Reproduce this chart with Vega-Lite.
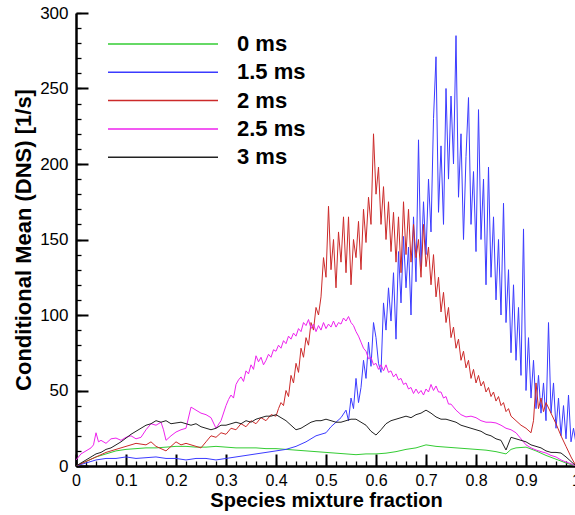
{
  "$schema": "https://vega.github.io/schema/vega-lite/v6.json",
  "width": 500,
  "height": 453,
  "autosize": "none",
  "padding": {"left": 76, "top": 13, "right": 0, "bottom": 49},
  "config": {
    "font": "Liberation Sans",
    "view": {"stroke": null},
    "axis": {"grid": false, "domainColor": "#000", "tickColor": "#000", "labelColor": "#000", "titleColor": "#000", "labelOverlap": false, "labelFlush": false}
  },
  "data": {"values": [
    {"s":"0 ms","x":0,"y":0},{"s":"0 ms","x":0.02,"y":3},{"s":"0 ms","x":0.04,"y":6},{"s":"0 ms","x":0.06,"y":8},{"s":"0 ms","x":0.08,"y":10},{"s":"0 ms","x":0.1,"y":11},{"s":"0 ms","x":0.12,"y":11.5},{"s":"0 ms","x":0.14,"y":12},{"s":"0 ms","x":0.16,"y":12},{"s":"0 ms","x":0.18,"y":12.5},{"s":"0 ms","x":0.2,"y":13},{"s":"0 ms","x":0.22,"y":13},{"s":"0 ms","x":0.24,"y":12.5},{"s":"0 ms","x":0.26,"y":12.5},{"s":"0 ms","x":0.28,"y":13},{"s":"0 ms","x":0.3,"y":12.5},{"s":"0 ms","x":0.32,"y":12},{"s":"0 ms","x":0.34,"y":12},{"s":"0 ms","x":0.36,"y":12},{"s":"0 ms","x":0.38,"y":11.5},{"s":"0 ms","x":0.4,"y":11.5},{"s":"0 ms","x":0.42,"y":11},{"s":"0 ms","x":0.44,"y":10.5},{"s":"0 ms","x":0.46,"y":10},{"s":"0 ms","x":0.48,"y":9.5},{"s":"0 ms","x":0.5,"y":9},{"s":"0 ms","x":0.52,"y":8.5},{"s":"0 ms","x":0.54,"y":8},{"s":"0 ms","x":0.56,"y":7.5},{"s":"0 ms","x":0.58,"y":8},{"s":"0 ms","x":0.6,"y":8},{"s":"0 ms","x":0.62,"y":8.5},{"s":"0 ms","x":0.64,"y":9.5},{"s":"0 ms","x":0.66,"y":11},{"s":"0 ms","x":0.68,"y":12},{"s":"0 ms","x":0.7,"y":14},{"s":"0 ms","x":0.72,"y":13},{"s":"0 ms","x":0.74,"y":12.5},{"s":"0 ms","x":0.76,"y":12},{"s":"0 ms","x":0.78,"y":11.5},{"s":"0 ms","x":0.8,"y":11},{"s":"0 ms","x":0.82,"y":10.5},{"s":"0 ms","x":0.84,"y":9.5},{"s":"0 ms","x":0.86,"y":8},{"s":"0 ms","x":0.87,"y":11},{"s":"0 ms","x":0.88,"y":12},{"s":"0 ms","x":0.9,"y":12.5},{"s":"0 ms","x":0.92,"y":10},{"s":"0 ms","x":0.94,"y":7},{"s":"0 ms","x":0.96,"y":4.5},{"s":"0 ms","x":0.98,"y":2},{"s":"0 ms","x":1,"y":0},

    {"s":"1.5 ms","x":0,"y":0},{"s":"1.5 ms","x":0.02,"y":2},{"s":"1.5 ms","x":0.04,"y":4},{"s":"1.5 ms","x":0.06,"y":5},{"s":"1.5 ms","x":0.08,"y":5},{"s":"1.5 ms","x":0.1,"y":6},{"s":"1.5 ms","x":0.12,"y":5},{"s":"1.5 ms","x":0.14,"y":5.5},{"s":"1.5 ms","x":0.16,"y":6},{"s":"1.5 ms","x":0.18,"y":5},{"s":"1.5 ms","x":0.2,"y":5},{"s":"1.5 ms","x":0.22,"y":4},{"s":"1.5 ms","x":0.24,"y":5},{"s":"1.5 ms","x":0.26,"y":5},{"s":"1.5 ms","x":0.28,"y":4},{"s":"1.5 ms","x":0.3,"y":5},{"s":"1.5 ms","x":0.32,"y":6},{"s":"1.5 ms","x":0.34,"y":7},{"s":"1.5 ms","x":0.36,"y":8},{"s":"1.5 ms","x":0.38,"y":9},{"s":"1.5 ms","x":0.4,"y":10},{"s":"1.5 ms","x":0.42,"y":11},{"s":"1.5 ms","x":0.44,"y":13},{"s":"1.5 ms","x":0.46,"y":16},{"s":"1.5 ms","x":0.48,"y":20},{"s":"1.5 ms","x":0.5,"y":22},{"s":"1.5 ms","x":0.51,"y":26},{"s":"1.5 ms","x":0.52,"y":29},{"s":"1.5 ms","x":0.53,"y":32},{"s":"1.5 ms","x":0.54,"y":37},{"s":"1.5 ms","x":0.545,"y":30},
    {"s":"1.5 ms","x":0.55,"y":45},{"s":"1.5 ms","x":0.555,"y":38},{"s":"1.5 ms","x":0.56,"y":58},{"s":"1.5 ms","x":0.565,"y":42},{"s":"1.5 ms","x":0.57,"y":52},{"s":"1.5 ms","x":0.575,"y":70},{"s":"1.5 ms","x":0.58,"y":58},{"s":"1.5 ms","x":0.585,"y":82},{"s":"1.5 ms","x":0.59,"y":66},{"s":"1.5 ms","x":0.595,"y":95},{"s":"1.5 ms","x":0.6,"y":85},{"s":"1.5 ms","x":0.605,"y":68},{"s":"1.5 ms","x":0.61,"y":62},{"s":"1.5 ms","x":0.615,"y":108},{"s":"1.5 ms","x":0.62,"y":90},{"s":"1.5 ms","x":0.625,"y":118},{"s":"1.5 ms","x":0.63,"y":96},{"s":"1.5 ms","x":0.635,"y":128},{"s":"1.5 ms","x":0.64,"y":84},{"s":"1.5 ms","x":0.645,"y":142},{"s":"1.5 ms","x":0.65,"y":108},{"s":"1.5 ms","x":0.655,"y":152},{"s":"1.5 ms","x":0.66,"y":118},{"s":"1.5 ms","x":0.665,"y":145},{"s":"1.5 ms","x":0.67,"y":100},{"s":"1.5 ms","x":0.675,"y":165},{"s":"1.5 ms","x":0.68,"y":122},{"s":"1.5 ms","x":0.685,"y":216},{"s":"1.5 ms","x":0.69,"y":132},{"s":"1.5 ms","x":0.695,"y":175},{"s":"1.5 ms","x":0.7,"y":140},{"s":"1.5 ms","x":0.705,"y":190},{"s":"1.5 ms","x":0.71,"y":155},{"s":"1.5 ms","x":0.715,"y":230},{"s":"1.5 ms","x":0.72,"y":271},{"s":"1.5 ms","x":0.725,"y":168},{"s":"1.5 ms","x":0.73,"y":212},{"s":"1.5 ms","x":0.735,"y":160},{"s":"1.5 ms","x":0.74,"y":250},{"s":"1.5 ms","x":0.745,"y":190},{"s":"1.5 ms","x":0.75,"y":245},{"s":"1.5 ms","x":0.755,"y":200},{"s":"1.5 ms","x":0.76,"y":285},{"s":"1.5 ms","x":0.765,"y":178},{"s":"1.5 ms","x":0.77,"y":220},{"s":"1.5 ms","x":0.775,"y":150},{"s":"1.5 ms","x":0.78,"y":205},{"s":"1.5 ms","x":0.785,"y":244},{"s":"1.5 ms","x":0.79,"y":160},{"s":"1.5 ms","x":0.795,"y":195},{"s":"1.5 ms","x":0.8,"y":142},{"s":"1.5 ms","x":0.805,"y":236},{"s":"1.5 ms","x":0.81,"y":150},{"s":"1.5 ms","x":0.815,"y":190},{"s":"1.5 ms","x":0.82,"y":120},{"s":"1.5 ms","x":0.825,"y":198},{"s":"1.5 ms","x":0.83,"y":125},{"s":"1.5 ms","x":0.835,"y":165},{"s":"1.5 ms","x":0.84,"y":110},{"s":"1.5 ms","x":0.845,"y":150},{"s":"1.5 ms","x":0.85,"y":100},{"s":"1.5 ms","x":0.855,"y":174},{"s":"1.5 ms","x":0.86,"y":95},{"s":"1.5 ms","x":0.865,"y":130},{"s":"1.5 ms","x":0.87,"y":75},{"s":"1.5 ms","x":0.875,"y":120},{"s":"1.5 ms","x":0.88,"y":70},{"s":"1.5 ms","x":0.885,"y":105},{"s":"1.5 ms","x":0.89,"y":60},{"s":"1.5 ms","x":0.895,"y":157},{"s":"1.5 ms","x":0.9,"y":50},{"s":"1.5 ms","x":0.905,"y":85},{"s":"1.5 ms","x":0.91,"y":45},{"s":"1.5 ms","x":0.915,"y":70},{"s":"1.5 ms","x":0.92,"y":38},{"s":"1.5 ms","x":0.925,"y":60},{"s":"1.5 ms","x":0.93,"y":35},{"s":"1.5 ms","x":0.935,"y":55},{"s":"1.5 ms","x":0.94,"y":30},{"s":"1.5 ms","x":0.945,"y":95},{"s":"1.5 ms","x":0.95,"y":35},{"s":"1.5 ms","x":0.955,"y":55},{"s":"1.5 ms","x":0.96,"y":25},{"s":"1.5 ms","x":0.965,"y":45},{"s":"1.5 ms","x":0.97,"y":20},{"s":"1.5 ms","x":0.975,"y":40},{"s":"1.5 ms","x":0.98,"y":18},{"s":"1.5 ms","x":0.985,"y":47},{"s":"1.5 ms","x":0.99,"y":16},{"s":"1.5 ms","x":0.995,"y":25},{"s":"1.5 ms","x":1,"y":15},

    {"s":"2 ms","x":0,"y":0},{"s":"2 ms","x":0.02,"y":3},{"s":"2 ms","x":0.04,"y":6},{"s":"2 ms","x":0.06,"y":9},{"s":"2 ms","x":0.08,"y":11},{"s":"2 ms","x":0.1,"y":13},{"s":"2 ms","x":0.12,"y":15},{"s":"2 ms","x":0.14,"y":14},{"s":"2 ms","x":0.15,"y":16},{"s":"2 ms","x":0.16,"y":13},{"s":"2 ms","x":0.18,"y":10},{"s":"2 ms","x":0.19,"y":13},{"s":"2 ms","x":0.2,"y":16},{"s":"2 ms","x":0.21,"y":14},{"s":"2 ms","x":0.22,"y":15},{"s":"2 ms","x":0.24,"y":13},{"s":"2 ms","x":0.25,"y":12},{"s":"2 ms","x":0.26,"y":16},{"s":"2 ms","x":0.27,"y":20},{"s":"2 ms","x":0.28,"y":19},{"s":"2 ms","x":0.29,"y":22},{"s":"2 ms","x":0.3,"y":21},{"s":"2 ms","x":0.31,"y":25},{"s":"2 ms","x":0.32,"y":24},{"s":"2 ms","x":0.33,"y":28},{"s":"2 ms","x":0.34,"y":26},{"s":"2 ms","x":0.35,"y":30},{"s":"2 ms","x":0.36,"y":28},{"s":"2 ms","x":0.37,"y":32},{"s":"2 ms","x":0.38,"y":30},{"s":"2 ms","x":0.39,"y":34},{"s":"2 ms","x":0.4,"y":33},{"s":"2 ms","x":0.405,"y":38},{"s":"2 ms","x":0.41,"y":42},{"s":"2 ms","x":0.415,"y":40},{"s":"2 ms","x":0.42,"y":50},{"s":"2 ms","x":0.425,"y":46},{"s":"2 ms","x":0.43,"y":60},{"s":"2 ms","x":0.435,"y":55},{"s":"2 ms","x":0.44,"y":68},{"s":"2 ms","x":0.445,"y":62},{"s":"2 ms","x":0.45,"y":78},{"s":"2 ms","x":0.455,"y":72},{"s":"2 ms","x":0.46,"y":85},{"s":"2 ms","x":0.465,"y":80},{"s":"2 ms","x":0.47,"y":95},{"s":"2 ms","x":0.475,"y":90},{"s":"2 ms","x":0.48,"y":105},{"s":"2 ms","x":0.485,"y":100},{"s":"2 ms","x":0.49,"y":112},{"s":"2 ms","x":0.495,"y":138},{"s":"2 ms","x":0.5,"y":125},{"s":"2 ms","x":0.505,"y":172},{"s":"2 ms","x":0.51,"y":130},{"s":"2 ms","x":0.515,"y":150},{"s":"2 ms","x":0.52,"y":118},{"s":"2 ms","x":0.525,"y":155},{"s":"2 ms","x":0.53,"y":135},{"s":"2 ms","x":0.535,"y":165},{"s":"2 ms","x":0.54,"y":128},{"s":"2 ms","x":0.545,"y":165},{"s":"2 ms","x":0.55,"y":120},{"s":"2 ms","x":0.555,"y":150},{"s":"2 ms","x":0.56,"y":138},{"s":"2 ms","x":0.565,"y":162},{"s":"2 ms","x":0.57,"y":130},{"s":"2 ms","x":0.575,"y":170},{"s":"2 ms","x":0.58,"y":148},{"s":"2 ms","x":0.585,"y":178},{"s":"2 ms","x":0.59,"y":160},{"s":"2 ms","x":0.595,"y":220},{"s":"2 ms","x":0.6,"y":180},{"s":"2 ms","x":0.605,"y":198},{"s":"2 ms","x":0.61,"y":160},{"s":"2 ms","x":0.615,"y":185},{"s":"2 ms","x":0.62,"y":150},{"s":"2 ms","x":0.625,"y":175},{"s":"2 ms","x":0.63,"y":142},{"s":"2 ms","x":0.635,"y":168},{"s":"2 ms","x":0.64,"y":135},{"s":"2 ms","x":0.645,"y":165},{"s":"2 ms","x":0.65,"y":128},{"s":"2 ms","x":0.655,"y":175},{"s":"2 ms","x":0.66,"y":140},{"s":"2 ms","x":0.665,"y":170},{"s":"2 ms","x":0.67,"y":135},{"s":"2 ms","x":0.675,"y":160},{"s":"2 ms","x":0.68,"y":138},{"s":"2 ms","x":0.685,"y":150},{"s":"2 ms","x":0.69,"y":125},{"s":"2 ms","x":0.695,"y":160},{"s":"2 ms","x":0.7,"y":132},{"s":"2 ms","x":0.705,"y":145},{"s":"2 ms","x":0.71,"y":120},{"s":"2 ms","x":0.715,"y":140},{"s":"2 ms","x":0.72,"y":112},{"s":"2 ms","x":0.725,"y":125},{"s":"2 ms","x":0.73,"y":102},{"s":"2 ms","x":0.735,"y":115},{"s":"2 ms","x":0.74,"y":95},{"s":"2 ms","x":0.745,"y":105},{"s":"2 ms","x":0.75,"y":85},{"s":"2 ms","x":0.755,"y":92},{"s":"2 ms","x":0.76,"y":78},{"s":"2 ms","x":0.765,"y":84},{"s":"2 ms","x":0.77,"y":70},{"s":"2 ms","x":0.775,"y":76},{"s":"2 ms","x":0.78,"y":65},{"s":"2 ms","x":0.785,"y":70},{"s":"2 ms","x":0.79,"y":58},{"s":"2 ms","x":0.795,"y":64},{"s":"2 ms","x":0.8,"y":55},{"s":"2 ms","x":0.805,"y":60},{"s":"2 ms","x":0.81,"y":53},{"s":"2 ms","x":0.815,"y":56},{"s":"2 ms","x":0.82,"y":49},{"s":"2 ms","x":0.825,"y":52},{"s":"2 ms","x":0.83,"y":46},{"s":"2 ms","x":0.835,"y":49},{"s":"2 ms","x":0.84,"y":43},{"s":"2 ms","x":0.845,"y":46},{"s":"2 ms","x":0.85,"y":40},{"s":"2 ms","x":0.855,"y":42},{"s":"2 ms","x":0.86,"y":36},{"s":"2 ms","x":0.865,"y":38},{"s":"2 ms","x":0.87,"y":33},{"s":"2 ms","x":0.88,"y":30},{"s":"2 ms","x":0.89,"y":27},{"s":"2 ms","x":0.9,"y":25},{"s":"2 ms","x":0.91,"y":22},{"s":"2 ms","x":0.915,"y":30},{"s":"2 ms","x":0.92,"y":55},{"s":"2 ms","x":0.925,"y":38},{"s":"2 ms","x":0.93,"y":45},{"s":"2 ms","x":0.935,"y":36},{"s":"2 ms","x":0.94,"y":42},{"s":"2 ms","x":0.95,"y":35},{"s":"2 ms","x":0.96,"y":28},{"s":"2 ms","x":0.97,"y":20},{"s":"2 ms","x":0.98,"y":13},{"s":"2 ms","x":0.99,"y":6},{"s":"2 ms","x":1,"y":0},

    {"s":"2.5 ms","x":0,"y":4},{"s":"2.5 ms","x":0.01,"y":8},{"s":"2.5 ms","x":0.02,"y":10},{"s":"2.5 ms","x":0.03,"y":12},{"s":"2.5 ms","x":0.035,"y":14},{"s":"2.5 ms","x":0.04,"y":22},{"s":"2.5 ms","x":0.045,"y":16},{"s":"2.5 ms","x":0.05,"y":17},{"s":"2.5 ms","x":0.06,"y":15},{"s":"2.5 ms","x":0.07,"y":18},{"s":"2.5 ms","x":0.08,"y":18.5},{"s":"2.5 ms","x":0.09,"y":17},{"s":"2.5 ms","x":0.1,"y":19},{"s":"2.5 ms","x":0.11,"y":20},{"s":"2.5 ms","x":0.12,"y":18},{"s":"2.5 ms","x":0.13,"y":19},{"s":"2.5 ms","x":0.14,"y":24},{"s":"2.5 ms","x":0.15,"y":28},{"s":"2.5 ms","x":0.16,"y":27},{"s":"2.5 ms","x":0.17,"y":29},{"s":"2.5 ms","x":0.175,"y":24},{"s":"2.5 ms","x":0.18,"y":17},{"s":"2.5 ms","x":0.19,"y":20},{"s":"2.5 ms","x":0.2,"y":22.5},{"s":"2.5 ms","x":0.21,"y":24},{"s":"2.5 ms","x":0.22,"y":25},{"s":"2.5 ms","x":0.23,"y":39},{"s":"2.5 ms","x":0.24,"y":37},{"s":"2.5 ms","x":0.25,"y":35},{"s":"2.5 ms","x":0.26,"y":34},{"s":"2.5 ms","x":0.27,"y":32},{"s":"2.5 ms","x":0.28,"y":25},{"s":"2.5 ms","x":0.29,"y":30},
    {"s":"2.5 ms","x":0.3,"y":40},{"s":"2.5 ms","x":0.305,"y":44},{"s":"2.5 ms","x":0.31,"y":47},{"s":"2.5 ms","x":0.315,"y":45},{"s":"2.5 ms","x":0.32,"y":54},{"s":"2.5 ms","x":0.325,"y":57},{"s":"2.5 ms","x":0.33,"y":59},{"s":"2.5 ms","x":0.335,"y":56},{"s":"2.5 ms","x":0.34,"y":63},{"s":"2.5 ms","x":0.345,"y":61},{"s":"2.5 ms","x":0.35,"y":67},{"s":"2.5 ms","x":0.355,"y":64},{"s":"2.5 ms","x":0.36,"y":73},{"s":"2.5 ms","x":0.365,"y":69},{"s":"2.5 ms","x":0.37,"y":72},{"s":"2.5 ms","x":0.375,"y":67},{"s":"2.5 ms","x":0.38,"y":70},{"s":"2.5 ms","x":0.385,"y":74},{"s":"2.5 ms","x":0.39,"y":72},{"s":"2.5 ms","x":0.395,"y":77},{"s":"2.5 ms","x":0.4,"y":76},{"s":"2.5 ms","x":0.405,"y":80},{"s":"2.5 ms","x":0.41,"y":78},{"s":"2.5 ms","x":0.415,"y":83},{"s":"2.5 ms","x":0.42,"y":81},{"s":"2.5 ms","x":0.425,"y":86},{"s":"2.5 ms","x":0.43,"y":84},{"s":"2.5 ms","x":0.435,"y":88},{"s":"2.5 ms","x":0.44,"y":86},{"s":"2.5 ms","x":0.445,"y":91},{"s":"2.5 ms","x":0.45,"y":89},{"s":"2.5 ms","x":0.455,"y":95},{"s":"2.5 ms","x":0.46,"y":93},{"s":"2.5 ms","x":0.465,"y":97},{"s":"2.5 ms","x":0.47,"y":91},{"s":"2.5 ms","x":0.475,"y":94},{"s":"2.5 ms","x":0.48,"y":89},{"s":"2.5 ms","x":0.485,"y":93},{"s":"2.5 ms","x":0.49,"y":90},{"s":"2.5 ms","x":0.495,"y":95},{"s":"2.5 ms","x":0.5,"y":91},{"s":"2.5 ms","x":0.505,"y":94},{"s":"2.5 ms","x":0.51,"y":92},{"s":"2.5 ms","x":0.515,"y":96},{"s":"2.5 ms","x":0.52,"y":92},{"s":"2.5 ms","x":0.525,"y":95},{"s":"2.5 ms","x":0.53,"y":94},{"s":"2.5 ms","x":0.535,"y":98},{"s":"2.5 ms","x":0.54,"y":96},{"s":"2.5 ms","x":0.545,"y":99},{"s":"2.5 ms","x":0.55,"y":95},{"s":"2.5 ms","x":0.555,"y":93},{"s":"2.5 ms","x":0.56,"y":89},{"s":"2.5 ms","x":0.565,"y":86},{"s":"2.5 ms","x":0.57,"y":82},{"s":"2.5 ms","x":0.575,"y":78},{"s":"2.5 ms","x":0.58,"y":76},{"s":"2.5 ms","x":0.585,"y":71},{"s":"2.5 ms","x":0.59,"y":72},{"s":"2.5 ms","x":0.595,"y":67},{"s":"2.5 ms","x":0.6,"y":68},{"s":"2.5 ms","x":0.605,"y":64},{"s":"2.5 ms","x":0.61,"y":67},{"s":"2.5 ms","x":0.615,"y":63},{"s":"2.5 ms","x":0.62,"y":67},{"s":"2.5 ms","x":0.625,"y":62},{"s":"2.5 ms","x":0.63,"y":63},{"s":"2.5 ms","x":0.635,"y":59},{"s":"2.5 ms","x":0.64,"y":61},{"s":"2.5 ms","x":0.645,"y":57},{"s":"2.5 ms","x":0.65,"y":58},{"s":"2.5 ms","x":0.655,"y":54},{"s":"2.5 ms","x":0.66,"y":55},{"s":"2.5 ms","x":0.665,"y":51},{"s":"2.5 ms","x":0.67,"y":52},{"s":"2.5 ms","x":0.675,"y":48},{"s":"2.5 ms","x":0.68,"y":51},{"s":"2.5 ms","x":0.685,"y":48},{"s":"2.5 ms","x":0.69,"y":50},{"s":"2.5 ms","x":0.695,"y":47},{"s":"2.5 ms","x":0.7,"y":51},{"s":"2.5 ms","x":0.705,"y":49},{"s":"2.5 ms","x":0.71,"y":54},{"s":"2.5 ms","x":0.715,"y":50},{"s":"2.5 ms","x":0.72,"y":53},{"s":"2.5 ms","x":0.725,"y":49},{"s":"2.5 ms","x":0.73,"y":49},{"s":"2.5 ms","x":0.735,"y":45},{"s":"2.5 ms","x":0.74,"y":46},{"s":"2.5 ms","x":0.745,"y":41},{"s":"2.5 ms","x":0.75,"y":41},{"s":"2.5 ms","x":0.76,"y":37},{"s":"2.5 ms","x":0.77,"y":34},{"s":"2.5 ms","x":0.78,"y":32.5},{"s":"2.5 ms","x":0.79,"y":33},{"s":"2.5 ms","x":0.8,"y":32},{"s":"2.5 ms","x":0.81,"y":30},{"s":"2.5 ms","x":0.82,"y":29},{"s":"2.5 ms","x":0.83,"y":29},{"s":"2.5 ms","x":0.84,"y":28.5},{"s":"2.5 ms","x":0.85,"y":27},{"s":"2.5 ms","x":0.86,"y":25},{"s":"2.5 ms","x":0.87,"y":24},{"s":"2.5 ms","x":0.88,"y":22},{"s":"2.5 ms","x":0.89,"y":18},{"s":"2.5 ms","x":0.9,"y":14},{"s":"2.5 ms","x":0.91,"y":12},{"s":"2.5 ms","x":0.92,"y":10.6},{"s":"2.5 ms","x":0.93,"y":9.5},{"s":"2.5 ms","x":0.94,"y":8.6},{"s":"2.5 ms","x":0.95,"y":7},{"s":"2.5 ms","x":0.96,"y":6},{"s":"2.5 ms","x":0.97,"y":4},{"s":"2.5 ms","x":0.98,"y":2.6},{"s":"2.5 ms","x":0.99,"y":1.5},{"s":"2.5 ms","x":1,"y":0},

    {"s":"3 ms","x":0,"y":0},{"s":"3 ms","x":0.01,"y":2},{"s":"3 ms","x":0.02,"y":4},{"s":"3 ms","x":0.03,"y":6},{"s":"3 ms","x":0.04,"y":8},{"s":"3 ms","x":0.05,"y":9},{"s":"3 ms","x":0.06,"y":11},{"s":"3 ms","x":0.07,"y":12},{"s":"3 ms","x":0.08,"y":14},{"s":"3 ms","x":0.09,"y":16},{"s":"3 ms","x":0.1,"y":18.5},{"s":"3 ms","x":0.11,"y":21},{"s":"3 ms","x":0.12,"y":23},{"s":"3 ms","x":0.13,"y":25},{"s":"3 ms","x":0.14,"y":27},{"s":"3 ms","x":0.15,"y":28},{"s":"3 ms","x":0.16,"y":30},{"s":"3 ms","x":0.17,"y":29},{"s":"3 ms","x":0.18,"y":30},{"s":"3 ms","x":0.19,"y":28},{"s":"3 ms","x":0.2,"y":28.5},{"s":"3 ms","x":0.21,"y":29},{"s":"3 ms","x":0.22,"y":28},{"s":"3 ms","x":0.23,"y":27},{"s":"3 ms","x":0.24,"y":28},{"s":"3 ms","x":0.25,"y":26},{"s":"3 ms","x":0.26,"y":25},{"s":"3 ms","x":0.27,"y":24},{"s":"3 ms","x":0.28,"y":25},{"s":"3 ms","x":0.29,"y":27},{"s":"3 ms","x":0.3,"y":27},{"s":"3 ms","x":0.31,"y":28},{"s":"3 ms","x":0.32,"y":29},{"s":"3 ms","x":0.33,"y":28},{"s":"3 ms","x":0.34,"y":30},{"s":"3 ms","x":0.35,"y":29},{"s":"3 ms","x":0.36,"y":31},{"s":"3 ms","x":0.37,"y":32},{"s":"3 ms","x":0.38,"y":33},{"s":"3 ms","x":0.39,"y":33},{"s":"3 ms","x":0.4,"y":34},{"s":"3 ms","x":0.41,"y":32},{"s":"3 ms","x":0.42,"y":30},{"s":"3 ms","x":0.43,"y":27},{"s":"3 ms","x":0.44,"y":24},{"s":"3 ms","x":0.45,"y":25},{"s":"3 ms","x":0.46,"y":27},{"s":"3 ms","x":0.47,"y":29},{"s":"3 ms","x":0.48,"y":30},{"s":"3 ms","x":0.49,"y":30},{"s":"3 ms","x":0.5,"y":31},{"s":"3 ms","x":0.51,"y":30},{"s":"3 ms","x":0.52,"y":29},{"s":"3 ms","x":0.53,"y":29},{"s":"3 ms","x":0.54,"y":30},{"s":"3 ms","x":0.55,"y":31},{"s":"3 ms","x":0.56,"y":31},{"s":"3 ms","x":0.57,"y":29},{"s":"3 ms","x":0.58,"y":27},{"s":"3 ms","x":0.59,"y":23},{"s":"3 ms","x":0.6,"y":20.5},{"s":"3 ms","x":0.61,"y":24},{"s":"3 ms","x":0.62,"y":28},{"s":"3 ms","x":0.63,"y":30},{"s":"3 ms","x":0.64,"y":31},{"s":"3 ms","x":0.65,"y":32},{"s":"3 ms","x":0.66,"y":33},{"s":"3 ms","x":0.67,"y":32},{"s":"3 ms","x":0.68,"y":34},{"s":"3 ms","x":0.69,"y":35},{"s":"3 ms","x":0.7,"y":37},{"s":"3 ms","x":0.71,"y":35},{"s":"3 ms","x":0.72,"y":32.5},{"s":"3 ms","x":0.73,"y":31},{"s":"3 ms","x":0.74,"y":31},{"s":"3 ms","x":0.75,"y":30},{"s":"3 ms","x":0.76,"y":29},{"s":"3 ms","x":0.77,"y":27},{"s":"3 ms","x":0.78,"y":26},{"s":"3 ms","x":0.79,"y":25},{"s":"3 ms","x":0.8,"y":24},{"s":"3 ms","x":0.81,"y":23},{"s":"3 ms","x":0.82,"y":21},{"s":"3 ms","x":0.83,"y":20},{"s":"3 ms","x":0.84,"y":18},{"s":"3 ms","x":0.85,"y":17},{"s":"3 ms","x":0.86,"y":10.6},{"s":"3 ms","x":0.87,"y":19},{"s":"3 ms","x":0.88,"y":18},{"s":"3 ms","x":0.89,"y":17},{"s":"3 ms","x":0.9,"y":16},{"s":"3 ms","x":0.91,"y":14},{"s":"3 ms","x":0.92,"y":13},{"s":"3 ms","x":0.93,"y":12},{"s":"3 ms","x":0.94,"y":10},{"s":"3 ms","x":0.95,"y":9},{"s":"3 ms","x":0.96,"y":9},{"s":"3 ms","x":0.97,"y":8.6},{"s":"3 ms","x":0.98,"y":6},{"s":"3 ms","x":0.99,"y":3},{"s":"3 ms","x":1,"y":0}
  ]},
  "resolve": {"axis": {"x": "independent", "y": "independent"}},
  "layer": [
    {
      "mark": {"type": "line", "strokeWidth": 1, "clip": true},
      "encoding": {
        "x": {"field": "x", "type": "quantitative", "scale": {"domain": [0, 1], "nice": false},
          "axis": {"orient": "bottom", "title": "Species mixture fraction", "titleFontSize": 20, "titleFontWeight": "bold", "titlePadding": 2,
            "values": [0,0.02,0.04,0.06,0.08,0.1,0.12,0.14,0.16,0.18,0.2,0.22,0.24,0.26,0.28,0.3,0.32,0.34,0.36,0.38,0.4,0.42,0.44,0.46,0.48,0.5,0.52,0.54,0.56,0.58,0.6,0.62,0.64,0.66,0.68,0.7,0.72,0.74,0.76,0.78,0.8,0.82,0.84,0.86,0.88,0.9,0.92,0.94,0.96,0.98,1],
            "labelExpr": "round(datum.value*50) % 5 == 0 ? format(datum.value, '~g') : ''",
            "labelFontSize": 16, "labelPadding": 11, "tickSize": -5, "tickWidth": 1.3, "domainWidth": 2.5}},
        "y": {"field": "y", "type": "quantitative", "scale": {"domain": [0, 300], "nice": false},
          "axis": {"orient": "left", "title": "Conditional Mean (DNS) [1/s]", "titleFontSize": 22, "titleFontWeight": "bold", "titlePadding": 4,
            "values": [0,10,20,30,40,50,60,70,80,90,100,110,120,130,140,150,160,170,180,190,200,210,220,230,240,250,260,270,280,290,300],
            "labelExpr": "datum.value % 50 == 0 ? datum.label : ''",
            "labelFontSize": 17, "labelPadding": 13, "tickSize": -5, "tickWidth": 1.3, "domainWidth": 2.5}},
        "color": {"field": "s", "type": "nominal",
          "scale": {"domain": ["0 ms", "1.5 ms", "2 ms", "2.5 ms", "3 ms"], "range": ["#33cc33", "#3b3bff", "#cc2a2a", "#ee22ee", "#222222"]},
          "legend": {"orient": "none", "legendX": 31, "legendY": 20, "title": null, "padding": 0,
            "symbolType": "stroke", "symbolSize": 12100, "symbolStrokeWidth": 1.5, "clipHeight": 22, "rowPadding": 6.3,
            "labelFontSize": 22, "labelFontWeight": "bold", "labelColor": "#000", "labelOffset": 18}}
      }
    },
    {
      "mark": {"type": "line", "strokeOpacity": 0},
      "encoding": {
        "x": {"field": "x", "type": "quantitative",
          "axis": {"orient": "bottom", "title": null, "values": [0,0.1,0.2,0.3,0.4,0.5,0.6,0.7,0.8,0.9,1], "labels": false, "domain": false, "tickSize": -12, "tickWidth": 2}},
        "y": {"field": "y", "type": "quantitative",
          "axis": {"orient": "left", "title": null, "values": [0,50,100,150,200,250,300], "labels": false, "domain": false, "tickSize": -12, "tickWidth": 2}},
        "detail": {"field": "s"}
      }
    }
  ]
}
